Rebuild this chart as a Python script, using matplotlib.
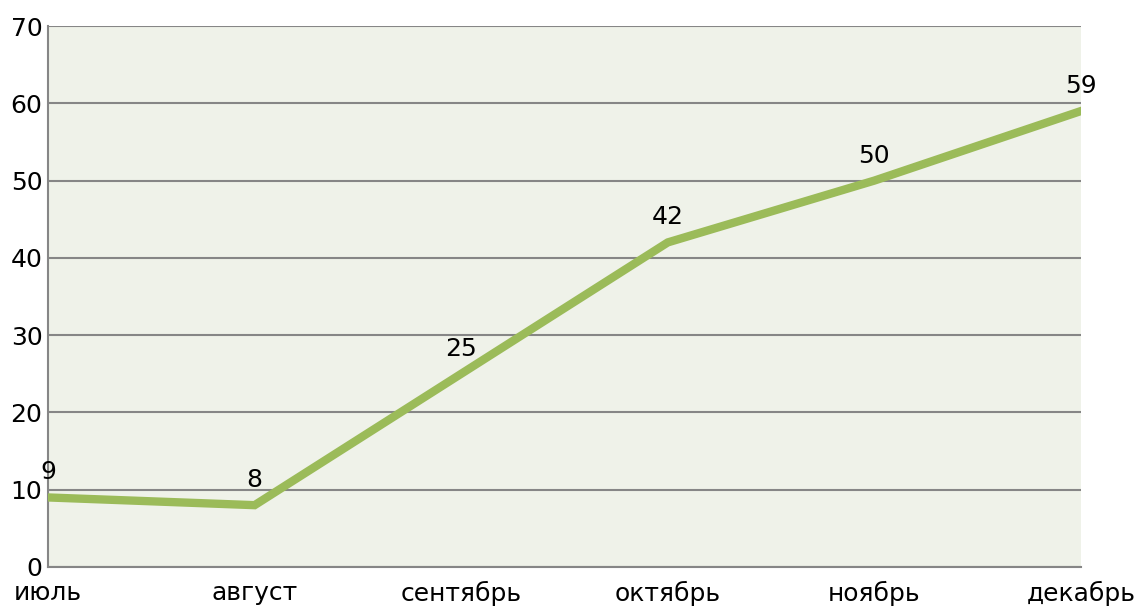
import matplotlib.pyplot as plt

months = ["июль", "август", "сентябрь", "октябрь", "ноябрь", "декабрь"]
values = [9, 8, 25, 42, 50, 59]
y_ticks = [0, 10, 20, 30, 40, 50, 60, 70]

fig = plt.figure(figsize=(11.43, 6.07), dpi=100)
ax = fig.add_axes([48 / 1143, 1 - 567 / 607, (1081 - 48) / 1143, (567 - 26) / 607])
ax.set_facecolor("#eff2e9")

x = list(range(len(months)))
ax.plot(x, values, color="#9bbb59", linewidth=6, solid_joinstyle="miter", zorder=3)

# value labels over each point
for xi, v in zip(x, values):
    ax.annotate(str(v), (xi, v), xytext=(0, 18), textcoords="offset points",
                ha="center", va="center", fontsize=18, color="black", zorder=4)

ax.set_xlim(0, len(months) - 1)
ax.set_ylim(0, 70)
ax.set_yticks(y_ticks)
ax.set_xticks(x)
ax.set_xticklabels(months)
ax.tick_params(axis="both", length=0, labelsize=18, colors="black")
ax.tick_params(axis="x", pad=10)
ax.tick_params(axis="y", pad=4)

ax.yaxis.grid(True, color="#868686", linewidth=1.5)
ax.set_axisbelow(True)
for side in ["top", "right"]:
    ax.spines[side].set_visible(False)
for side in ["left", "bottom"]:
    ax.spines[side].set_color("#868686")
    ax.spines[side].set_linewidth(1.5)

plt.savefig("out.png", dpi=100)
